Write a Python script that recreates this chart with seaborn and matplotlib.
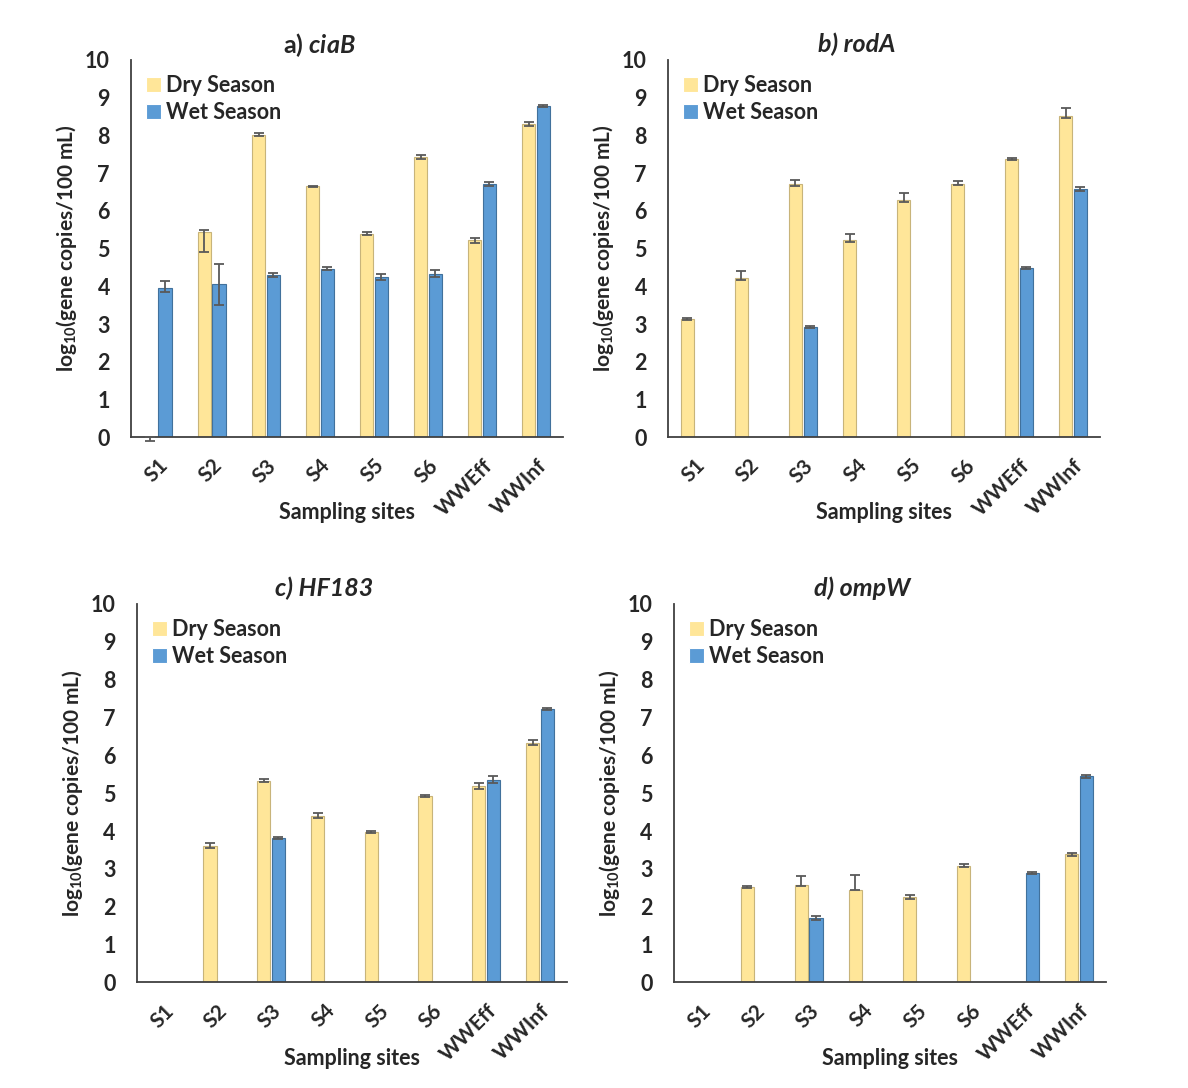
import matplotlib
matplotlib.use("Agg")
import matplotlib.pyplot as plt
import numpy as np
import pandas as pd
import seaborn as sns

sites = ["S1", "S2", "S3", "S4", "S5", "S6", "WWEff", "WWInf"]
seasons = ["Dry Season", "Wet Season"]

# panel a) ciaB
ciab_dry = [0.00, 5.45, 8.02, 6.65, 5.40, 7.42, 5.22, 8.30]
ciab_dry_lo = [0.10, 0.55, 0.05, 0.02, 0.05, 0.05, 0.07, 0.05]
ciab_dry_hi = [0.00, 0.05, 0.05, 0.02, 0.05, 0.05, 0.07, 0.05]
ciab_wet = [3.95, 4.05, 4.30, 4.47, 4.25, 4.33, 6.72, 8.78]
ciab_wet_lo = [0.10, 0.55, 0.05, 0.03, 0.08, 0.08, 0.05, 0.03]
ciab_wet_hi = [0.18, 0.55, 0.05, 0.03, 0.08, 0.10, 0.05, 0.03]

# panel b) rodA
roda_dry = [3.13, 4.23, 6.70, 5.22, 6.28, 6.72, 7.37, 8.50]
roda_dry_lo = [0.02, 0.05, 0.05, 0.05, 0.05, 0.04, 0.02, 0.05]
roda_dry_hi = [0.02, 0.17, 0.12, 0.18, 0.20, 0.06, 0.02, 0.22]
roda_wet = [0.00, 0.00, 2.92, 0.00, 0.00, 0.00, 4.48, 6.58]
roda_wet_lo = [0, 0, 0.02, 0, 0, 0, 0.02, 0.05]
roda_wet_hi = [0, 0, 0.02, 0, 0, 0, 0.02, 0.06]

# panel c) HF183
hf183_dry = [0.00, 3.60, 5.33, 4.40, 3.98, 4.92, 5.20, 6.33]
hf183_dry_lo = [0, 0.05, 0.03, 0.05, 0.02, 0.02, 0.08, 0.05]
hf183_dry_hi = [0, 0.08, 0.05, 0.08, 0.02, 0.02, 0.08, 0.07]
hf183_wet = [0.00, 0.00, 3.82, 0.00, 0.00, 0.00, 5.35, 7.23]
hf183_wet_lo = [0, 0, 0.02, 0, 0, 0, 0.08, 0.03]
hf183_wet_hi = [0, 0, 0.02, 0, 0, 0, 0.10, 0.03]

# panel d) ompW
ompw_dry = [0.00, 2.53, 2.57, 2.45, 2.25, 3.08, 0.00, 3.38]
ompw_dry_lo = [0, 0.03, 0.03, 0.00, 0.05, 0.04, 0, 0.05]
ompw_dry_hi = [0, 0.03, 0.25, 0.40, 0.05, 0.04, 0, 0.05]
ompw_wet = [0.00, 0.00, 1.70, 0.00, 0.00, 0.00, 2.90, 5.45]
ompw_wet_lo = [0, 0, 0.05, 0, 0, 0, 0.03, 0.04]
ompw_wet_hi = [0, 0, 0.05, 0, 0, 0, 0.03, 0.04]

# "a)" is upright in the original, the other panel letters are italic
panel_titles = [r"a) $\mathit{ciaB}$", "b) rodA", "c) HF183", "d) ompW"]
title_italic = [False, True, True, True]

panels = [
    (ciab_dry, ciab_wet, (ciab_dry_lo, ciab_dry_hi), (ciab_wet_lo, ciab_wet_hi)),
    (roda_dry, roda_wet, (roda_dry_lo, roda_dry_hi), (roda_wet_lo, roda_wet_hi)),
    (hf183_dry, hf183_wet, (hf183_dry_lo, hf183_dry_hi), (hf183_wet_lo, hf183_wet_hi)),
    (ompw_dry, ompw_wet, (ompw_dry_lo, ompw_dry_hi), (ompw_wet_lo, ompw_wet_hi)),
]

# layout (figure fractions) and styling
axes_rects = [
    [0.110, 0.598, 0.364, 0.347],
    [0.562, 0.598, 0.364, 0.347],
    [0.115, 0.097, 0.362, 0.348],
    [0.567, 0.097, 0.364, 0.348],
]
palette = {"Dry Season": "#FFE699", "Wet Season": "#5B9BD5"}
edges = {"Dry Season": "#C8B47A", "Wet Season": "#41719C"}
font = "Lato"

sns.set_style("white")
plt.rcParams["font.family"] = [font, "DejaVu Sans"]
plt.rcParams["font.weight"] = "bold"
plt.rcParams["mathtext.fontset"] = "custom"
plt.rcParams["mathtext.rm"] = f"{font}:bold"
plt.rcParams["mathtext.it"] = f"{font}:italic:bold"
plt.rcParams["mathtext.default"] = "rm"

fig = plt.figure(figsize=(11.88, 10.88), dpi=100)

for i, (dry, wet, dry_err, wet_err) in enumerate(panels):
    ax = fig.add_axes(axes_rects[i])
    df = pd.DataFrame({
        "site": sites * 2,
        "value": list(dry) + list(wet),
        "season": [seasons[0]] * len(sites) + [seasons[1]] * len(sites),
    })
    sns.barplot(
        data=df, x="site", y="value", hue="season", order=sites,
        hue_order=seasons, palette=palette, saturation=1, errorbar=None,
        width=0.54, gap=0.1, linewidth=0.8, ax=ax,
    )

    errs = {seasons[0]: dry_err, seasons[1]: wet_err}
    for container, season in zip(ax.containers, seasons):
        lo, hi = errs[season]
        for patch in container:
            cx = patch.get_x() + patch.get_width() / 2
            k = int(round(cx))
            h = patch.get_height()
            patch.set_edgecolor(edges[season] if h > 0 else "#D9D9D9")
            if lo[k] + hi[k] > 0:
                ax.errorbar(
                    cx, h, yerr=[[lo[k]], [hi[k]]], fmt="none",
                    ecolor="#595959", elinewidth=1.3, capsize=3.5,
                    capthick=1.3, clip_on=False, zorder=5,
                )

    ax.set_xlim(-0.5, len(sites) - 0.5)
    ax.set_ylim(0, 10)
    ax.set_yticks(range(0, 11))
    sns.despine(ax=ax)
    for side in ["left", "bottom"]:
        ax.spines[side].set_color("#404040")
        ax.spines[side].set_linewidth(1.3)

    ax.tick_params(axis="y", direction="out", length=5, width=1.2,
                   color="#404040", labelsize=15.5, pad=10)
    ax.tick_params(axis="x", which="major", length=0, labelsize=15, pad=13)
    ax.set_xticks(np.arange(0.5, len(sites), 1.0), minor=True)
    ax.tick_params(axis="x", which="minor", direction="in", length=5,
                   width=1.2, color="#404040")
    for lab in ax.get_xticklabels():
        lab.set_rotation(45)
        lab.set_ha("right")
        lab.set_rotation_mode("anchor")
        lab.set_fontweight("bold")
    for lab in ax.get_yticklabels():
        lab.set_fontweight("bold")

    ax.set_xlabel("Sampling sites", fontsize=15.5, fontweight="bold")
    ax.xaxis.set_label_coords(0.5, -0.172)
    ax.set_ylabel(r"log$_{10}$(gene copies/100 mL)", fontsize=15,
                  fontweight="bold", labelpad=4)

    leg = ax.legend(loc="upper left", bbox_to_anchor=(0.0, 1.0),
                    frameon=False, fontsize=15.5, handlelength=0.7,
                    handleheight=0.7, handletextpad=0.25, labelspacing=0.3,
                    borderaxespad=0.3)
    for t in leg.get_texts():
        t.set_fontweight("bold")

    ax.text(0.437, 1.04, panel_titles[i], transform=ax.transAxes,
            ha="center", va="center", fontsize=18, fontweight="bold",
            style="italic" if title_italic[i] else "normal")

fig.savefig("out.png", dpi=100, facecolor="white")
